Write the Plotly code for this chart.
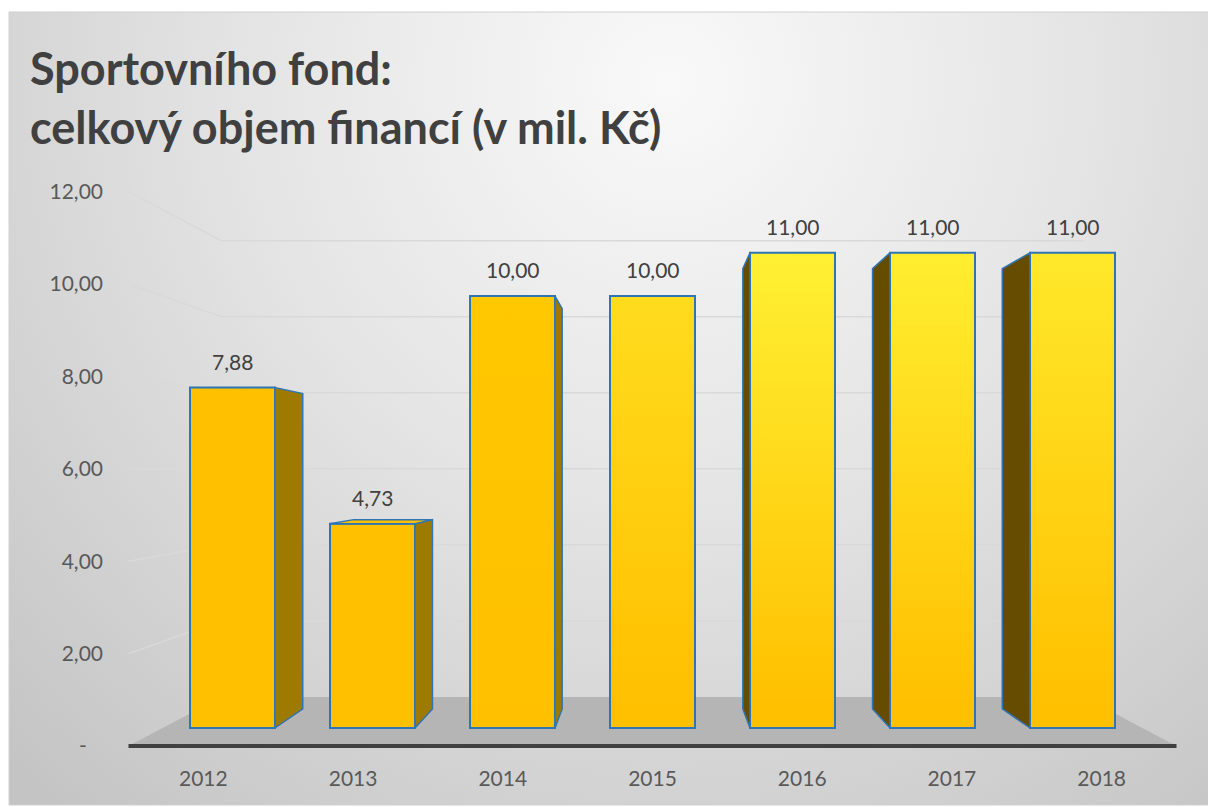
import base64
import plotly.graph_objects as go

# ---------------- data ----------------
YEARS = ["2012", "2013", "2014", "2015", "2016", "2017", "2018"]
VALUES = [7.88, 4.73, 10.00, 10.00, 11.00, 11.00, 11.00]
Y_TICKS = [0, 2, 4, 6, 8, 10, 12]
Y_TICK_TEXT = ["-\u00a0\u00a0\u00a0", "2,00", "4,00", "6,00", "8,00", "10,00", "12,00"]
TITLE_LINES = ["Sportovního fond:", "celkový objem financí (v mil. Kč)"]

# ---------------- style ----------------
BASE_GOLD = "#ffc000"
TOP_COLORS = ["#ffc000", "#ffc000", "#ffc800", "#ffdc1e", "#fff033", "#ffee30", "#ffe82a"]
SIDE_LIGHT = "#9e7b00"
SIDE_DARK = "#654c00"
EDGE_BLUE = "#2e75b6"
FLOOR = "#b5b5b5"
GRID = "#d9d9d9"
AXIS_DARK = "#404040"
TEXT = "#404040"
TICK_TEXT = "#595959"
FONT = "Lato"

W, H = 1208, 807
L, R, T, B = 110, 18, 170, 55
PW, PH = W - L - R, H - T - B
CAT_PX, CAT0_PX = 140.0, 232.5      # px per category, px of first category (bar plane)
VAL_PX, ZERO_PX = 43.2, 728.0       # px per unit, px of zero (bar plane)
BW = 85.0 / CAT_PX                  # bar width in category units

# pseudo-3D perspective (vanishing point + depth scales)
N = len(YEARS)
VX, VY = (N - 1) / 2.0, 6.0
K_FRONT, K_BACK, K_BAR = 1.0694, 0.880, 0.9265


def proj(x, y, k):
    return VX + (x - VX) * k, VY + (y - VY) * k


def px2paper(px, py):
    return (px - L) / PW, 1 - (py - T) / PH


x_range = [(L - CAT0_PX) / CAT_PX, (W - R - CAT0_PX) / CAT_PX]
y_range = [(ZERO_PX - (H - B)) / VAL_PX, (ZERO_PX - T) / VAL_PX]

fig = go.Figure()

# ---- floor ----
x_lo, x_hi = -0.5, N - 0.5
fl, bl = proj(x_lo, 0, K_FRONT), proj(x_lo, 0, K_BACK)
br, fr = proj(x_hi, 0, K_BACK), proj(x_hi, 0, K_FRONT)
fig.add_trace(go.Scatter(
    x=[fl[0], bl[0], br[0], fr[0], fl[0]], y=[fl[1], bl[1], br[1], fr[1], fl[1]],
    fill="toself", fillcolor=FLOOR, mode="lines", line=dict(width=0),
    hoverinfo="skip", showlegend=False))

# ---- gridlines: left wall + back wall ----
gx, gy = [], []
for v in Y_TICKS[1:]:
    a, b, c = proj(x_lo, v, K_FRONT), proj(x_lo, v, K_BACK), proj(x_hi, v, K_BACK)
    gx += [a[0], b[0], c[0], None]
    gy += [a[1], b[1], c[1], None]
fig.add_trace(go.Scatter(x=gx, y=gy, mode="lines", line=dict(color=GRID, width=1.5),
                         hoverinfo="skip", showlegend=False))

# ---- front axis line ----
fig.add_trace(go.Scatter(x=[fl[0], fr[0]], y=[fl[1], fr[1]], mode="lines",
                         line=dict(color=AXIS_DARK, width=4),
                         hoverinfo="skip", showlegend=False))

# ---- bars (front faces) ----
idx = list(range(N))
fig.add_trace(go.Bar(
    x=idx, y=VALUES, width=BW, xaxis="x2", yaxis="y2",
    marker=dict(color=BASE_GOLD, line=dict(color=EDGE_BLUE, width=2)),
    hoverinfo="skip", showlegend=False))

# gradient skin over each front face
for i, v in enumerate(VALUES):
    x0, x1 = i - BW / 2, i + BW / 2
    fig.add_trace(go.Scatter(
        x=[x0, x1, x1, x0, x0], y=[0, 0, v, v, 0], xaxis="x2", yaxis="y2",
        fill="toself", mode="lines", line=dict(color=EDGE_BLUE, width=2),
        fillgradient=dict(type="vertical",
                          colorscale=[[0, BASE_GOLD], [1, TOP_COLORS[i]]],
                          start=0.5, stop=v),
        hoverinfo="skip", showlegend=False))

# side faces and visible top faces
for i, v in enumerate(VALUES):
    if i < VX:
        xe, col = i + BW / 2, SIDE_LIGHT
    elif i > VX:
        xe, col = i - BW / 2, SIDE_DARK
    else:
        xe = None
    if xe is not None:
        p_top, p_bot = proj(xe, v, K_BAR), proj(xe, 0, K_BAR)
        fig.add_trace(go.Scatter(
            x=[xe, xe, p_top[0], p_bot[0], xe], y=[0, v, p_top[1], p_bot[1], 0],
            xaxis="x2", yaxis="y2", fill="toself", fillcolor=col, mode="lines",
            line=dict(color=EDGE_BLUE, width=1.5), hoverinfo="skip", showlegend=False))
    if v < VY:
        a, b = proj(i - BW / 2, v, K_BAR), proj(i + BW / 2, v, K_BAR)
        fig.add_trace(go.Scatter(
            x=[i - BW / 2, i + BW / 2, b[0], a[0], i - BW / 2], y=[v, v, b[1], a[1], v],
            xaxis="x2", yaxis="y2", fill="toself", fillcolor=BASE_GOLD, mode="lines",
            line=dict(color=EDGE_BLUE, width=1.5), hoverinfo="skip", showlegend=False))

# ---- data labels ----
annotations = []
for i, v in enumerate(VALUES):
    annotations.append(dict(
        x=i, y=v, xref="x2", yref="y2", text=f"{v:.2f}".replace(".", ","),
        showarrow=False, yanchor="bottom", yshift=12,
        font=dict(family=FONT, size=21, color=TEXT)))

# ---- title ----
for line, py in zip(TITLE_LINES, [68, 127]):
    px_, py_ = px2paper(28, py)
    annotations.append(dict(
        x=px_, y=py_, xref="paper", yref="paper", text=f"<b>{line}</b>",
        showarrow=False, xanchor="left", yanchor="middle",
        font=dict(family=FONT, size=45, color=TEXT)))

# ---- chart background (radial gradient) ----
CX0, CY0, CX1, CY1 = 9, 12, 1208, 805
svg = (f'<svg xmlns="http://www.w3.org/2000/svg" width="{CX1-CX0}" height="{CY1-CY0}">'
       '<defs><radialGradient id="g" gradientUnits="userSpaceOnUse" cx="660" cy="70" r="950">'
       '<stop offset="0" stop-color="#f9f9f9"/><stop offset="0.45" stop-color="#e4e4e4"/>'
       '<stop offset="1" stop-color="#c4c4c4"/></radialGradient></defs>'
       f'<rect width="{CX1-CX0}" height="{CY1-CY0}" fill="url(#g)"/></svg>')
src = "data:image/svg+xml;base64," + base64.b64encode(svg.encode()).decode()
ix, iy = px2paper(CX0, CY0)
images = [dict(source=src, xref="paper", yref="paper", x=ix, y=iy,
               sizex=(CX1 - CX0) / PW, sizey=(CY1 - CY0) / PH,
               xanchor="left", yanchor="top", sizing="stretch", layer="below")]
bx1, by1 = px2paper(CX1 + 2, CY1)
shapes = [dict(type="rect", xref="paper", yref="paper", x0=ix, y0=by1, x1=bx1, y1=iy,
               line=dict(color="#d0d0d0", width=1), layer="below")]

fig.update_layout(
    width=W, height=H, autosize=False,
    margin=dict(l=L, r=R, t=T, b=B, pad=0),
    paper_bgcolor="white", plot_bgcolor="rgba(0,0,0,0)",
    font=dict(family=FONT, color=TEXT),
    showlegend=False, bargap=0,
    xaxis=dict(range=x_range, tickmode="array",
               tickvals=[proj(i, 0, K_FRONT)[0] for i in idx], ticktext=YEARS,
               showgrid=False, zeroline=False, showline=False, ticks="",
               ticklabelstandoff=12, automargin=False, fixedrange=True,
               tickfont=dict(family=FONT, size=21, color=TICK_TEXT)),
    yaxis=dict(range=y_range, tickmode="array",
               tickvals=[proj(0, v, K_FRONT)[1] for v in Y_TICKS], ticktext=Y_TICK_TEXT,
               showgrid=False, zeroline=False, showline=False, ticks="",
               ticklabelstandoff=6, automargin=False, fixedrange=True,
               tickfont=dict(family=FONT, size=21, color=TICK_TEXT)),
    xaxis2=dict(range=x_range, overlaying="x", visible=False, fixedrange=True),
    yaxis2=dict(range=y_range, overlaying="y", visible=False, fixedrange=True),
    annotations=annotations, images=images, shapes=shapes,
)

fig.write_html("out.html", config={"displayModeBar": False},
               post_script="document.body.style.margin='0px';")
